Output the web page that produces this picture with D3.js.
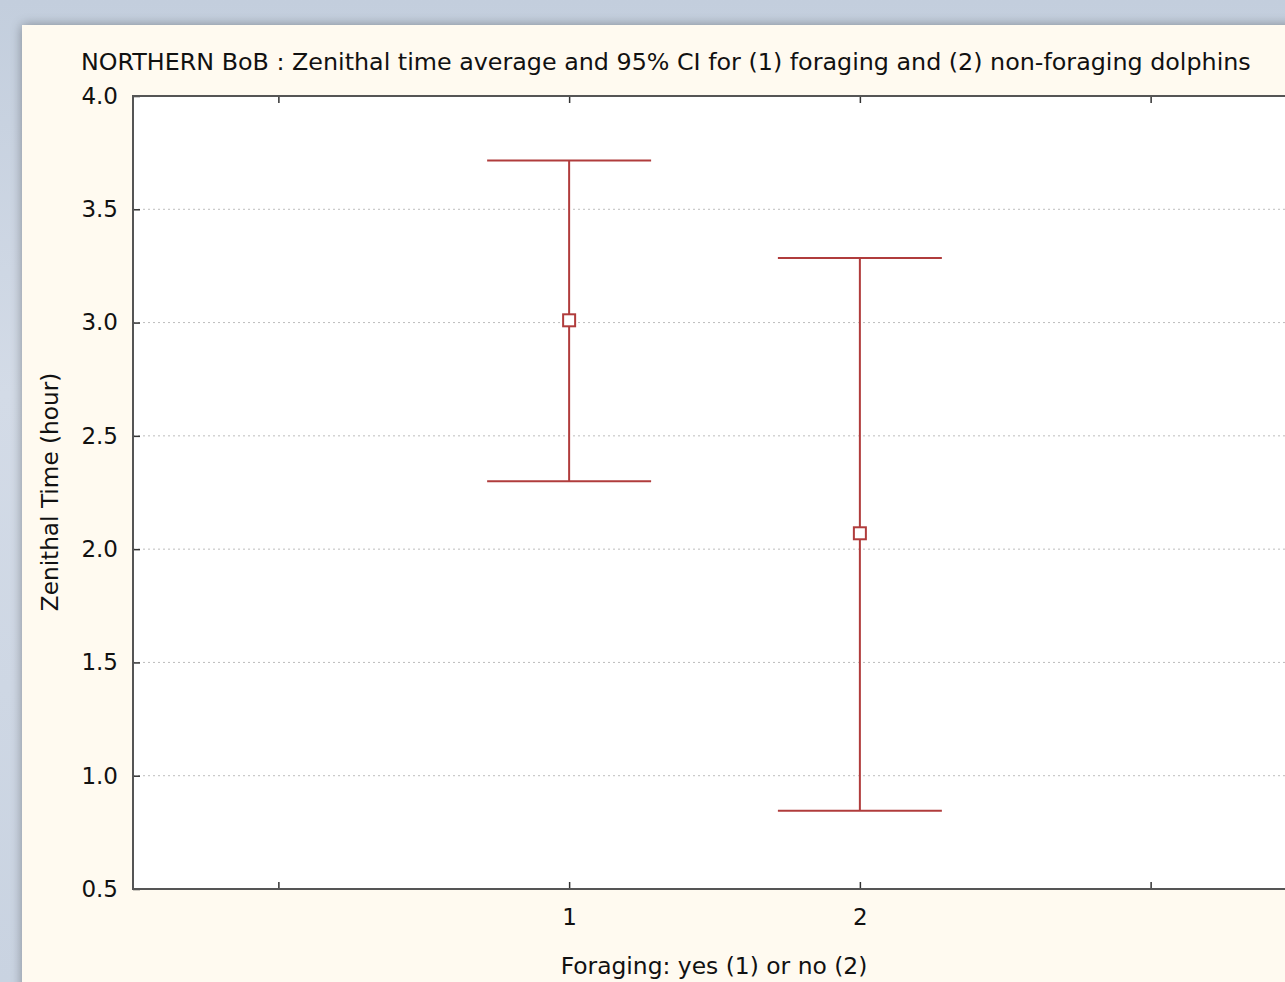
<!DOCTYPE html>
<html><head><meta charset="utf-8">
<script src="https://cdn.jsdelivr.net/npm/d3@7"></script>
<style>
html,body{margin:0;padding:0;overflow:hidden;}
body{width:1285px;height:982px;background:linear-gradient(180deg,#c3cedd 0%,#d3dbe7 40%,#c9d3e1 100%);}
</style></head><body>
<script>
const categories = [1, 2];
const means = [3.01, 2.07];
const ciLower = [2.30, 0.845];
const ciUpper = [3.715, 3.285];
const yTicks = [0.5, 1.0, 1.5, 2.0, 2.5, 3.0, 3.5, 4.0];
const xTicks = [0, 1, 2, 3];
const xTickLabels = ["", "1", "2", ""];
const title = "NORTHERN BoB : Zenithal time average and 95% CI for (1) foraging and (2) non-foraging dolphins";
const xLabel = "Foraging: yes (1) or no (2)";
const yLabel = "Zenithal Time (hour)";

const W = 1285, H = 982;
const svg = d3.select("body").append("svg").attr("width", W).attr("height", H)
  .style("position","absolute").style("left",0).style("top",0);
const defs = svg.append("defs");
const f = defs.append("filter").attr("id","sh").attr("x","-5%").attr("y","-5%").attr("width","115%").attr("height","115%");
f.append("feGaussianBlur").attr("in","SourceAlpha").attr("stdDeviation",6);
f.append("feComponentTransfer").append("feFuncA").attr("type","linear").attr("slope",0.35);
const m = f.append("feMerge"); m.append("feMergeNode"); m.append("feMergeNode").attr("in","SourceGraphic");

svg.append("rect").attr("x",22).attr("y",25).attr("width",1300).attr("height",1000)
  .attr("fill","#fffaf0").attr("filter","url(#sh)");

const L = 133, T = 96, B = 889, R = 1296;
const x = d3.scaleLinear().domain([-0.5, 3.5]).range([L, R]);
const y = d3.scaleLinear().domain([0.5, 4.0]).range([B, T]);
const font = "'DejaVu Sans', Verdana, sans-serif";

svg.append("rect").attr("x",L).attr("y",T).attr("width",R-L).attr("height",B-T).attr("fill","#fff");

// grid
svg.append("g").selectAll("line").data(yTicks.filter(d => d > 0.5 && d < 4.0)).join("line")
  .attr("x1",L).attr("x2",R).attr("y1",d=>y(d)).attr("y2",d=>y(d))
  .attr("stroke","#bdbdbd").attr("stroke-width",1).attr("stroke-dasharray","2,3");

// axes
const yAxis = d3.axisLeft(y).tickValues(yTicks).tickFormat(d3.format(".1f")).tickSizeInner(-7).tickSizeOuter(0).tickPadding(15);
const gy = svg.append("g").attr("transform",`translate(${L},0)`).call(yAxis);
gy.attr("font-family",font).attr("font-size",23);
gy.select(".domain").remove();
gy.selectAll("line").attr("stroke","#333").attr("stroke-width",1.5);
gy.selectAll("text").attr("fill","#111");

const xAxis = d3.axisBottom(x).tickValues(xTicks).tickFormat((d,i)=>xTickLabels[i]).tickSizeInner(-7).tickSizeOuter(0).tickPadding(20);
const gx = svg.append("g").attr("transform",`translate(0,${B})`).call(xAxis);
gx.attr("font-family",font).attr("font-size",23);
gx.select(".domain").remove();
gx.selectAll("line").attr("stroke","#333").attr("stroke-width",1.5);
gx.selectAll("text").attr("fill","#111");

const xTop = d3.axisTop(x).tickValues(xTicks).tickFormat("").tickSizeInner(-7).tickSizeOuter(0);
const gxt = svg.append("g").attr("transform",`translate(0,${T})`).call(xTop);
gxt.select(".domain").remove();
gxt.selectAll("line").attr("stroke","#333").attr("stroke-width",1.5);

// frame
svg.append("rect").attr("x",L).attr("y",T).attr("width",R-L).attr("height",B-T)
  .attr("fill","none").attr("stroke","#555").attr("stroke-width",2);

// error bars
const col = "#b03c3c";
const capHalf = 0.282;
const g = svg.append("g");
categories.forEach((c,i)=>{
  g.append("line").attr("x1",x(c)).attr("x2",x(c)).attr("y1",y(ciUpper[i])).attr("y2",y(ciLower[i]))
    .attr("stroke",col).attr("stroke-width",2);
  [ciUpper[i], ciLower[i]].forEach(v=>{
    g.append("line").attr("x1",x(c-capHalf)).attr("x2",x(c+capHalf)).attr("y1",y(v)).attr("y2",y(v))
      .attr("stroke",col).attr("stroke-width",2);
  });
  g.append("rect").attr("x",x(c)-6).attr("y",y(means[i])-6).attr("width",12).attr("height",12)
    .attr("fill","#fff").attr("stroke",col).attr("stroke-width",2);
});

// texts
svg.append("text").attr("x",81).attr("y",70).attr("font-family",font).attr("font-size",23.8).attr("fill","#111")
  .text(title);
svg.append("text").attr("x",714).attr("y",974).attr("text-anchor","middle").attr("font-family",font).attr("font-size",23.4).attr("fill","#111")
  .text(xLabel);
svg.append("text").attr("transform",`translate(58,492) rotate(-90)`).attr("text-anchor","middle").attr("font-family",font).attr("font-size",23.2).attr("fill","#111")
  .text(yLabel);
</script>
</body></html>
